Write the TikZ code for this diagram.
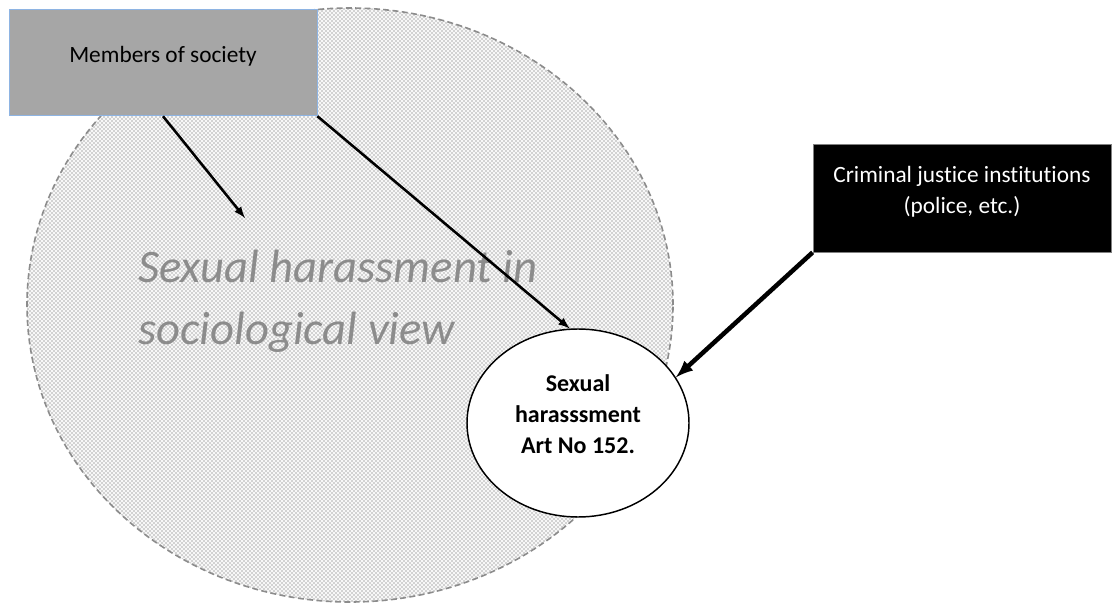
\documentclass[tikz,border=0pt]{standalone}
\usepackage{fontspec}
\setmainfont{Carlito}[Ligatures=NoCommon]
\usetikzlibrary{arrows,shapes,patterns}

\definecolor{membergray}{HTML}{A6A6A6}
\definecolor{memberblue}{HTML}{8EB4E3}
\definecolor{viewgray}{HTML}{8C8C8C}

\begin{document}
\begin{tikzpicture}[x=0.75pt, y=-0.75pt,
members/.style={
    draw=memberblue, fill=membergray, line width=0.6pt,
    minimum width=231pt, minimum height=80pt, inner sep=0pt},
justice/.style={
    draw=gray, fill=black, line width=0.6pt, text=white,
    minimum width=223.5pt, minimum height=81pt, inner sep=0pt},
view/.style={
    ellipse, draw=viewgray, dashed, dash pattern=on 4.5pt off 2.5pt,
    line width=1.2pt, preaction={fill=gray!6},
    pattern=crosshatch dots, pattern color=black!65,
    minimum width=484.5pt, minimum height=445.5pt},
article/.style={
    ellipse, draw=black, fill=white, line width=1.1pt,
    minimum width=166.5pt, minimum height=141pt},
boxtext/.style={font=\fontsize{17.5}{23.25}\selectfont, align=center},
]

\useasboundingbox (0,0) rectangle (1113,609);

\node[view] (V) at (350,305) {};
\node[font=\fontsize{35}{46.5}\selectfont\itshape, text=viewgray,
      align=left, anchor=north west, inner sep=0pt] (Vt) at (138,250)
     {Sexual harassment in\\sociological view};

\node[members, label={[boxtext, yshift=5pt]center:Members of society}] (M) at (163,62.5) {};
\node[article, label={[boxtext, font=\fontsize{18}{23}\selectfont\bfseries, yshift=6.5pt]center:Sexual\\harasssment\\Art No 152.}] (A) at (578,423) {};
\node[justice, label={[boxtext, text=white, yshift=4.5pt]center:Criminal justice institutions\\(police, etc.)}] (C) at (962,198) {};

\coordinate (Vin) at (245,218);
\draw[-latex, line width=1.9pt] (M.south) to (Vin);
\draw[-latex, line width=1.9pt] (M.south east) to (A.95);
\draw[-latex, line width=3.4pt] (C.south west) to (A.25);

\end{tikzpicture}
\end{document}
